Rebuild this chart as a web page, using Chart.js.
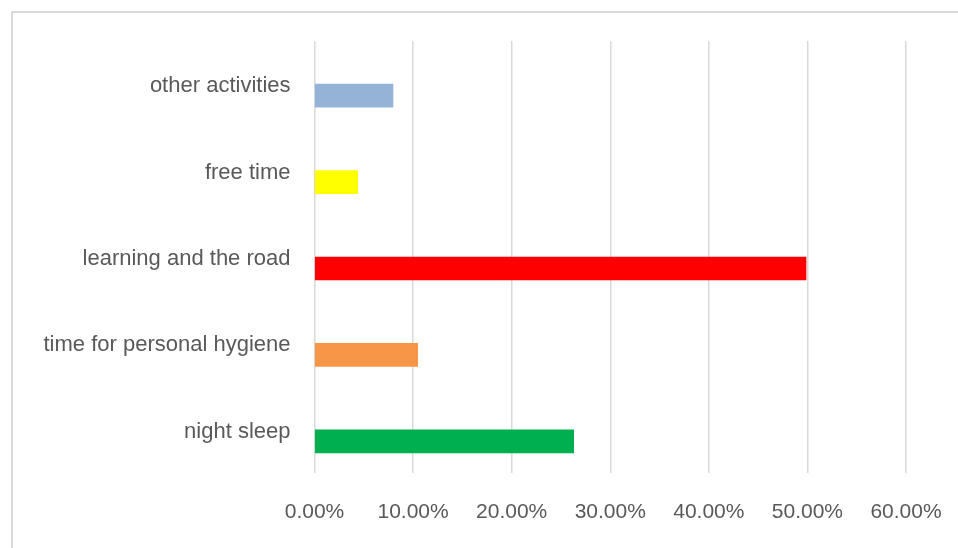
<!DOCTYPE html>
<html>
<head>
<meta charset="utf-8">
<script src="https://cdn.jsdelivr.net/npm/chart.js@4"></script>
<style>
    html, body { margin: 0; padding: 0; background: #fff; overflow: hidden; }
    .frame {
        position: absolute; left: 11px; top: 11px; width: 1000px; height: 600px;
        border-left: 2px solid #d9d9d9; border-top: 2px solid #d9d9d9;
    }
    .wrap { position: absolute; left: 0; top: 0; width: 958px; height: 548px; }
</style>
</head>
<body>
<div class="frame"></div>
<div class="wrap"><canvas id="barChart"></canvas></div>
<script>
// categories, top to bottom as in the picture
const categories = ['other activities', 'free time', 'learning and the road', 'time for personal hygiene', 'night sleep'];
// shares of the day (fraction)
const shares = [0.0796, 0.0438, 0.4986, 0.1047, 0.2629];
const barColors = ['#95b3d7', '#ffff00', '#ff0000', '#f79646', '#00b050'];
const tickMax = 0.6;
const tickStep = 0.1;

const textColor = '#595959';
const gridColor = '#d9d9d9';

document.addEventListener('DOMContentLoaded', () => {
    const ctx = document.getElementById('barChart').getContext('2d');
    new Chart(ctx, {
        type: 'bar',
        data: {
            labels: categories,
            datasets: [
                // empty series that holds the upper slot of each category
                { label: 'blank', data: categories.map(() => null), barThickness: 23 },
                { label: 'share', data: shares, backgroundColor: barColors, barThickness: 23 }
            ]
        },
        options: {
            indexAxis: 'y',
            responsive: true,
            maintainAspectRatio: false,
            animation: false,
            layout: { padding: { top: 41, right: 52, left: 0, bottom: 0 } },
            plugins: { legend: { display: false }, tooltip: { enabled: false } },
            scales: {
                x: {
                    min: 0,
                    max: tickMax,
                    ticks: {
                        stepSize: tickStep,
                        color: textColor,
                        padding: 0,
                        font: { family: 'Liberation Sans', size: 21 },
                        callback: (v) => (v * 100).toFixed(2) + '%'
                    },
                    // invisible tick marks keep the labels well below the plot
                    grid: { color: gridColor, lineWidth: 1.5, drawTicks: true, tickLength: 27, tickColor: 'rgba(0,0,0,0)' },
                    border: { display: false },
                    afterFit: (scale) => { scale.height = 75; }
                },
                y: {
                    ticks: {
                        color: textColor,
                        padding: 24,
                        labelOffset: 2,
                        font: { family: 'Liberation Sans', size: 22 }
                    },
                    grid: { display: false, drawTicks: false },
                    border: { display: false },
                    afterFit: (scale) => { scale.width = 314.5; }
                }
            }
        }
    });
});
</script>
</body>
</html>
